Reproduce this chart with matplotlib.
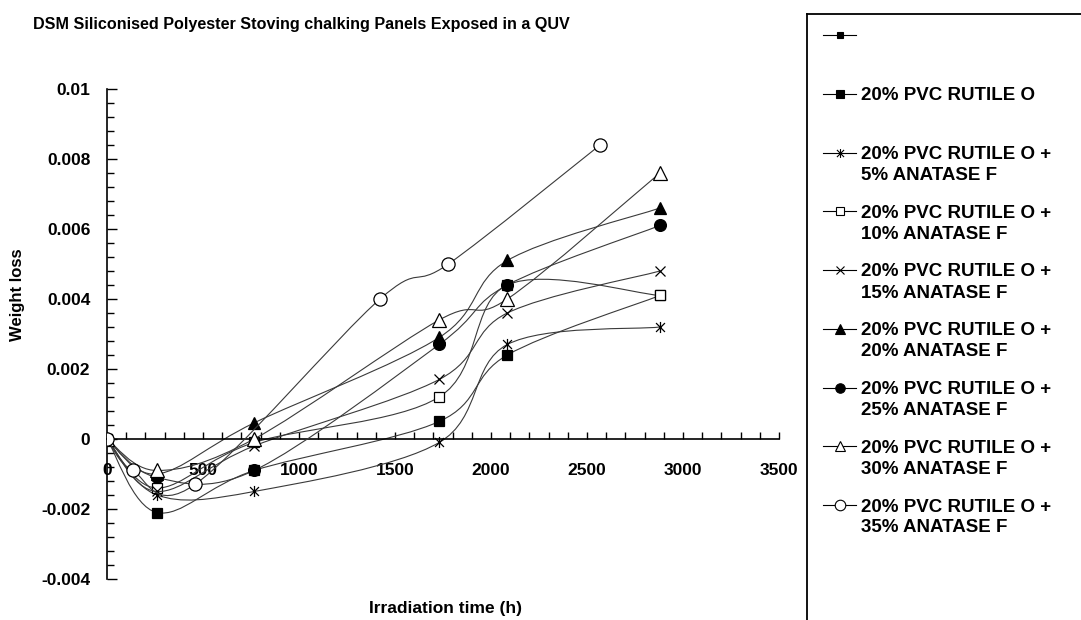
import numpy as np
import matplotlib
matplotlib.use('Agg')
import matplotlib.pyplot as plt
import matplotlib.ticker as ticker
from matplotlib.path import Path
from matplotlib.patches import PathPatch

plt.rcParams['font.family'] = ['Liberation Sans', 'DejaVu Sans']
plt.rcParams['font.weight'] = 'bold'

# exposure times (h) and weight loss readings
hours = [0, 260, 766, 1730, 2085, 2880]
hours_35 = [0, 133, 458, 1422, 1778, 2568]

w_rutile = [0, -0.0021, -0.0009, 0.0005, 0.0024, 0.0041]
w_ana5 = [0, -0.0016, -0.0015, -0.0001, 0.0027, 0.0032]
w_ana10 = [0, -0.0014, -0.0001, 0.0012, 0.0044, 0.0041]
w_ana15 = [0, -0.0015, -0.0002, 0.0017, 0.0036, 0.0048]
w_ana20 = [0, -0.0010, 0.00046, 0.0029, 0.0051, 0.0066]
w_ana25 = [0, -0.0011, -0.0009, 0.0027, 0.0044, 0.0061]
w_ana30 = [0, -0.0009, 0.0000, 0.0034, 0.0040, 0.0076]
w_ana35 = [0, -0.0009, -0.0013, 0.0040, 0.0050, 0.0084]

labels = ['',
          '20% PVC RUTILE O',
          '20% PVC RUTILE O +\n5% ANATASE F',
          '20% PVC RUTILE O +\n10% ANATASE F',
          '20% PVC RUTILE O +\n15% ANATASE F',
          '20% PVC RUTILE O +\n20% ANATASE F',
          '20% PVC RUTILE O +\n25% ANATASE F',
          '20% PVC RUTILE O +\n30% ANATASE F',
          '20% PVC RUTILE O +\n35% ANATASE F']

# asterisk marker (x with a vertical bar)
M, L = Path.MOVETO, Path.LINETO
asterisk = Path([(-1, -1), (1, 1), (-1, 1), (1, -1), (0, -1.25), (0, 1.25)],
                [M, L, M, L, M, L])

styles = [
    dict(marker='s', ms=5, mfc='black'),
    dict(marker='s', ms=7.5, mfc='black'),
    dict(marker=asterisk, ms=8, mfc='none'),
    dict(marker='s', ms=6.5, mfc='white'),
    dict(marker='x', ms=7.5, mfc='none'),
    dict(marker='^', ms=8.5, mfc='black'),
    dict(marker='o', ms=8.5, mfc='black'),
    dict(marker='^', ms=9.5, mfc='white'),
    dict(marker='o', ms=9.5, mfc='white'),
]

series = [(None, None),
          (hours, w_rutile), (hours, w_ana5), (hours, w_ana10), (hours, w_ana15),
          (hours, w_ana20), (hours, w_ana25), (hours, w_ana30), (hours_35, w_ana35)]


def smooth_path(x, y):
    # cubic Bezier through the points (Catmull-Rom style tangents)
    pts = np.column_stack([x, y]).astype(float)
    n = len(pts)
    verts = [pts[0]]
    codes = [Path.MOVETO]
    for i in range(n - 1):
        p0 = pts[max(i - 1, 0)]
        p1 = pts[i]
        p2 = pts[i + 1]
        p3 = pts[min(i + 2, n - 1)]
        verts += [p1 + (p2 - p0) / 6, p2 - (p3 - p1) / 6, p2]
        codes += [Path.CURVE4] * 3
    return Path(verts, codes)


W, H = 1081, 620
fig = plt.figure(figsize=(W / 100, H / 100), dpi=100)
ax = fig.add_axes([107 / W, 1 - 579 / H, 672 / W, 490 / H])

line_color = '#3a3a3a'
for k, ((x, y), st) in enumerate(zip(series, styles)):
    if x is None:
        continue
    ax.add_patch(PathPatch(smooth_path(x, y), fill=False, edgecolor=line_color,
                           lw=0.8, zorder=2 + k * 0.1))
    ax.plot(x, y, linestyle='none', mec='black', mew=0.9, zorder=2.05 + k * 0.1, **st)

ax.set_xlim(0, 3500)
ax.set_ylim(-0.004, 0.01)
for s in ['top', 'right']:
    ax.spines[s].set_visible(False)
ax.spines['bottom'].set_position(('data', 0))
ax.spines['bottom'].set_linewidth(1.2)
ax.spines['left'].set_linewidth(1.2)

ax.xaxis.set_major_locator(ticker.MultipleLocator(500))
ax.xaxis.set_minor_locator(ticker.MultipleLocator(100))
ax.yaxis.set_major_locator(ticker.MultipleLocator(0.002))
ax.yaxis.set_minor_locator(ticker.MultipleLocator(0.0004))
ax.yaxis.set_major_formatter(ticker.FuncFormatter(lambda v, p: f'{v:g}' if abs(v) > 1e-12 else '0'))
ax.tick_params(axis='x', which='both', direction='in', length=5, width=1, pad=17,
               labelsize=12.5)
ax.tick_params(axis='y', which='major', direction='in', length=7, width=1, pad=12,
               labelsize=12.5)
ax.tick_params(axis='y', which='minor', direction='in', length=5, width=1)
for t in ax.get_xticklabels() + ax.get_yticklabels():
    t.set_fontweight('bold')

fig.text(33 / W, 1 - 24 / H,
         'DSM Siliconised Polyester Stoving chalking Panels Exposed in a QUV',
         ha='left', va='center', fontsize=11.6, fontweight='bold')
fig.text(445 / W, 1 - 608 / H, 'Irradiation time (h)', ha='center', va='center',
         fontsize=12.5, fontweight='bold')
fig.text(18 / W, 1 - 295 / H, 'Weight loss', ha='center', va='center',
         rotation=90, fontsize=12, fontweight='bold')

# legend panel
lg = fig.add_axes([807 / W, 0, 274 / W, 606 / H])
lg.set_xlim(807, 1081)
lg.set_ylim(620, 14)
lg.set_xticks([])
lg.set_yticks([])
for s in ['right', 'bottom']:
    lg.spines[s].set_visible(False)
lg.spines['left'].set_linewidth(1.3)
lg.spines['top'].set_linewidth(1.3)
lg.patch.set_alpha(0)

for i, (lab, st) in enumerate(zip(labels, styles)):
    yy = 35 + i * 58.75
    lg.plot([823, 856], [yy, yy], color='black', lw=0.8, clip_on=False)
    st_leg = dict(st)
    st_leg['ms'] = st['ms'] * 0.8
    lg.plot([840], [yy], linestyle='none', mec='black', mew=0.8, clip_on=False, **st_leg)
    for j, part in enumerate(lab.split('\n')):
        lg.text(861, yy + j * 21, part, ha='left', va='center_baseline',
                fontsize=13.5, fontweight='bold')

fig.savefig('out.png', dpi=100)
